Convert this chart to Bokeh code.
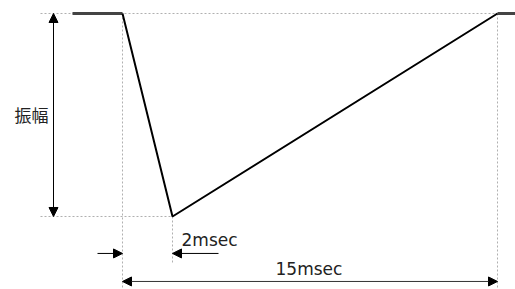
from bokeh.plotting import figure
from bokeh.models import Range1d, Arrow, NormalHead, Label
from bokeh.embed import file_html
from bokeh.resources import INLINE

# waveform (time in msec, amplitude normalised)
wave_t = [0, 2, 15]
wave_a = [0, -1, 0]
pre_t = [-2, 0]
pre_a = [0, 0]
post_t = [15, 15.8]
post_a = [0, 0]
fall_time = 2
period = 15
amp_label = "振幅"
fall_label = "2msec"
period_label = "15msec"

p = figure(width=515, height=289, output_backend="svg", toolbar_location=None,
           x_range=Range1d(-4.88, 15.72), y_range=Range1d(-1.3596, 0.064),
           min_border=0, outline_line_color=None)
p.axis.visible = False
p.grid.visible = False
p.background_fill_color = "white"
p.border_fill_color = "white"

guide = dict(line_color="#b0b0b0", line_dash="2 2", line_width=1)
p.line([-3.28, period], [0, 0], **guide)
p.line([-3.28, fall_time], [-1, -1], **guide)
p.line([0, 0], [0, -1.4], **guide)
p.line([fall_time, fall_time], [-1, -1.227], **guide)
p.line([period, period], [0, -1.4], **guide)

p.line(pre_t, pre_a, line_color="#444444", line_width=3)
p.line(post_t, post_a, line_color="#444444", line_width=3)
p.line(wave_t, wave_a, line_color="black", line_width=2)

def head():
    return NormalHead(size=9, fill_color="black", line_color="black")

# amplitude arrow
p.add_layout(Arrow(start=head(), end=head(), x_start=-2.76, x_end=-2.76,
                   y_start=-1, y_end=0, line_color="black", line_width=1))
p.add_layout(Label(x=-2.96, y=-0.5, text=amp_label, text_align="right",
                   text_baseline="middle", text_font="Noto Sans CJK JP",
                   text_font_size="17px", text_color="#222222"))

# 2msec arrows
y2 = -1.182
p.add_layout(Arrow(end=head(), start=None, x_start=-1.0, x_end=0, y_start=y2, y_end=y2,
                   line_color="black", line_width=1))
p.add_layout(Arrow(end=head(), start=None, x_start=3.84, x_end=fall_time, y_start=y2, y_end=y2,
                   line_color="black", line_width=1))
p.add_layout(Label(x=2.36, y=-1.115, text=fall_label, text_align="left",
                   text_baseline="alphabetic", text_font="DejaVu Sans",
                   text_font_size="17px", text_color="#222222"))

# 15msec arrow
y15 = -1.320
p.add_layout(Arrow(start=head(), end=head(), x_start=0, x_end=period, y_start=y15, y_end=y15,
                   line_color="#333333", line_width=1))
p.add_layout(Label(x=6.12, y=-1.258, text=period_label, text_align="left",
                   text_baseline="alphabetic", text_font="DejaVu Sans",
                   text_font_size="17px", text_color="#222222"))

open("out.html", "w").write(file_html(p, INLINE))
